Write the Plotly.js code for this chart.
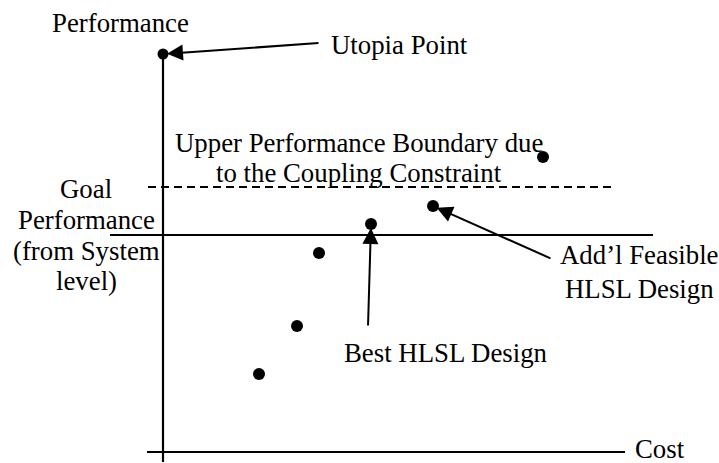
<!DOCTYPE html>
<html>
<head>
<meta charset="utf-8">
<script src="https://cdn.plot.ly/plotly-3.0.1.min.js"></script>
<style>html,body{margin:0;padding:0;background:#fff;}#chart{width:719px;height:463px;}</style>
</head>
<body>
<div id="chart"></div>
<script>
// Design points (cost, performance) in arbitrary units, origin at the axes' corner
const designCost = [9.6, 13.4, 15.6, 20.8, 27.0, 38.0];
const designPerf = [7.8, 12.6, 19.9, 22.8, 24.6, 29.5];
const utopiaCost = [0];
const utopiaPerf = [39.8];
const goalPerformance = 21.7;
const upperBoundary = 26.5;
const bestIndex = 3;
const addlIndex = 4;

const F = {family: 'Liberation Serif, Times New Roman, serif', size: 26.8, color: '#000'};

const traces = [
  {x: designCost, y: designPerf, mode: 'markers', type: 'scatter',
   marker: {color: '#000', size: 12}, hoverinfo: 'skip'},
  {x: utopiaCost, y: utopiaPerf, mode: 'markers', type: 'scatter',
   marker: {color: '#000', size: 11}, hoverinfo: 'skip'}
];

const shapes = [
  // vertical axis
  {type: 'line', xref: 'x', yref: 'y', x0: 0, x1: 0, y0: -1.0, y1: utopiaPerf[0], line: {color: '#000', width: 2.2}},
  // horizontal axis
  {type: 'line', xref: 'x', yref: 'y', x0: -1.6, x1: 46.2, y0: 0, y1: 0, line: {color: '#000', width: 2.2}},
  // goal performance line
  {type: 'line', xref: 'x', yref: 'y', x0: -5.3, x1: 49.0, y0: goalPerformance, y1: goalPerformance, line: {color: '#000', width: 2.2}},
  // upper boundary dashed line
  {type: 'line', xref: 'x', yref: 'y', x0: -1.5, x1: 45.2, y0: upperBoundary, y1: upperBoundary, line: {color: '#000', width: 2, dash: '8px,5px'}}
];

const ann = (x, y, text, xanchor) => ({x, y, xref: 'x', yref: 'y', text, showarrow: false,
  xanchor: xanchor || 'center', yanchor: 'middle', font: F});

const arrow = (x, y, ax, ay) => ({x, y, ax, ay, xref: 'x', yref: 'y', axref: 'x', ayref: 'y',
  text: '', showarrow: true, arrowhead: 2, arrowsize: 1.6, arrowwidth: 2, arrowcolor: '#000', standoff: 4});

const annotations = [
  ann(-4.3, 42.9, 'Performance'),
  ann(16.6, 40.7, 'Utopia Point', 'left'),
  ann(19.6, 30.9, 'Upper Performance Boundary due'),
  ann(19.6, 27.9, 'to the Coupling Constraint'),
  ann(-7.7, 26.3, 'Goal'),
  ann(-7.7, 23.2, 'Performance'),
  ann(-7.7, 20.1, '(from System'),
  ann(-7.7, 17.1, 'level)'),
  ann(47.6, 19.7, 'Add\u2019l Feasible'),
  ann(47.6, 16.3, 'HLSL Design'),
  ann(17.9, 9.9, 'Best HLSL Design', 'left'),
  ann(47.0, 0.35, 'Cost', 'left'),
  arrow(utopiaCost[0], utopiaPerf[0], 15.7, 40.9),
  arrow(designCost[bestIndex], designPerf[bestIndex], 20.5, 12.5),
  arrow(designCost[addlIndex], designPerf[addlIndex], 38.9, 19.3)
];

const layout = {
  width: 719, height: 463,
  margin: {l: 0, r: 0, t: 0, b: 0},
  paper_bgcolor: '#fff', plot_bgcolor: '#fff',
  showlegend: false,
  xaxis: {range: [-16.3, 55.6], visible: false, fixedrange: true},
  yaxis: {range: [-1.1, 45.2], visible: false, fixedrange: true},
  shapes, annotations
};

Plotly.newPlot('chart', traces, layout, {displayModeBar: false, staticPlot: true});
</script>
</body>
</html>
